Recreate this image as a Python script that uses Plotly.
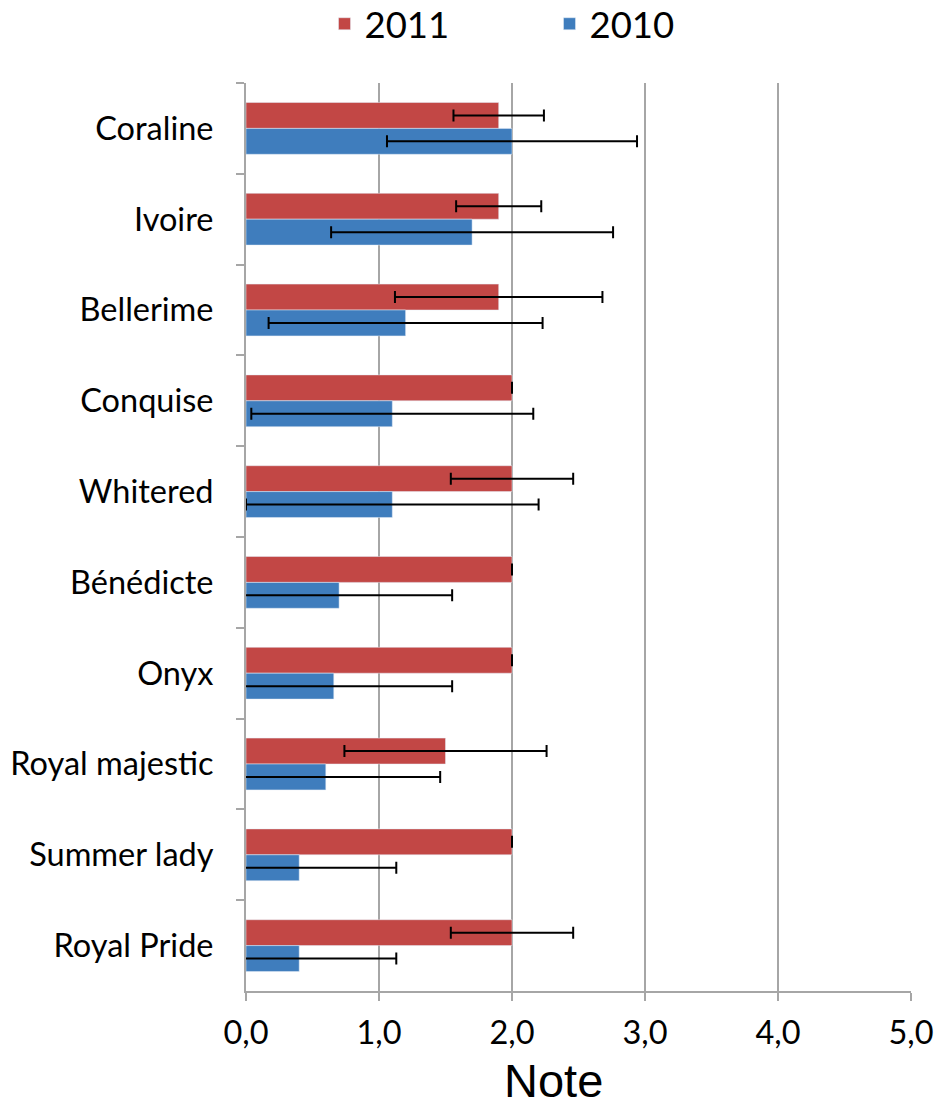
import plotly.graph_objects as go

categories = ["Coraline", "Ivoire", "Bellerime", "Conquise", "Whitered",
              "Bénédicte", "Onyx", "Royal majestic", "Summer lady", "Royal Pride"]
values_2011 = [1.9, 1.9, 1.9, 2.0, 2.0, 2.0, 2.0, 1.5, 2.0, 2.0]
errors_2011 = [0.34, 0.32, 0.78, 0.0, 0.46, 0.0, 0.0, 0.76, 0.0, 0.46]
values_2010 = [2.0, 1.7, 1.2, 1.1, 1.1, 0.7, 0.66, 0.6, 0.4, 0.4]
errors_2010 = [0.94, 1.06, 1.03, 1.06, 1.1, 0.85, 0.89, 0.86, 0.73, 0.73]
x_ticks = [0, 1, 2, 3, 4, 5]

RED = "#C24745"
BLUE = "#3F7DBD"
GRID = "#A6A6A6"
LABEL_FONT = "Lato, 'Open Sans', sans-serif"

err_style = dict(type="data", thickness=2, width=6, color="black")

fig = go.Figure()
fig.add_trace(go.Bar(
    name="2011", y=categories, x=values_2011, orientation="h",
    marker=dict(color=RED),
    error_x=dict(array=errors_2011, **err_style),
))
fig.add_trace(go.Bar(
    name="2010", y=categories, x=values_2010, orientation="h",
    marker=dict(color=BLUE),
    error_x=dict(array=errors_2010, **err_style),
))

W, H = 936, 1112
fig.update_layout(
    width=W, height=H,
    margin=dict(l=246, r=25, t=83, b=121, autoexpand=False),
    paper_bgcolor="white", plot_bgcolor="white",
    barmode="group", bargap=0.43, bargroupgap=0,
    separators=", ",
    font=dict(family=LABEL_FONT, size=32.5, color="black"),
    showlegend=True,
    legend=dict(orientation="h", xref="container", x=0.3467, xanchor="left",
                yref="container", y=1 - 24 / H, yanchor="middle",
                font=dict(family=LABEL_FONT, size=36.5), entrywidth=180,
                traceorder="normal"),
    xaxis=dict(
        range=[0, 5], tickvals=x_ticks, tickformat=".1f",
        showgrid=True, gridcolor=GRID, gridwidth=2,
        showline=True, linecolor=GRID, linewidth=2,
        ticks="outside", ticklen=8, tickcolor=GRID, tickwidth=2,
        ticklabelstandoff=4, ticklabeloverflow="allow", automargin=False,
        zeroline=False,
    ),
    yaxis=dict(
        type="category", autorange="reversed",
        showgrid=False, showline=True, linecolor=GRID, linewidth=2,
        ticks="outside", tickson="boundaries", ticklen=8, tickcolor=GRID, tickwidth=2,
        ticklabelstandoff=24, automargin=False,
    ),
    annotations=[dict(
        text="Note", xref="paper", x=0.463, xanchor="center",
        yref="paper", y=-0.0985, yanchor="middle",
        showarrow=False,
        font=dict(family="'Liberation Sans', Arial, sans-serif", size=47, color="black"),
    )],
)

fig.write_html("out.html", config={"displayModeBar": False},
               post_script="document.body.style.margin='0';")
